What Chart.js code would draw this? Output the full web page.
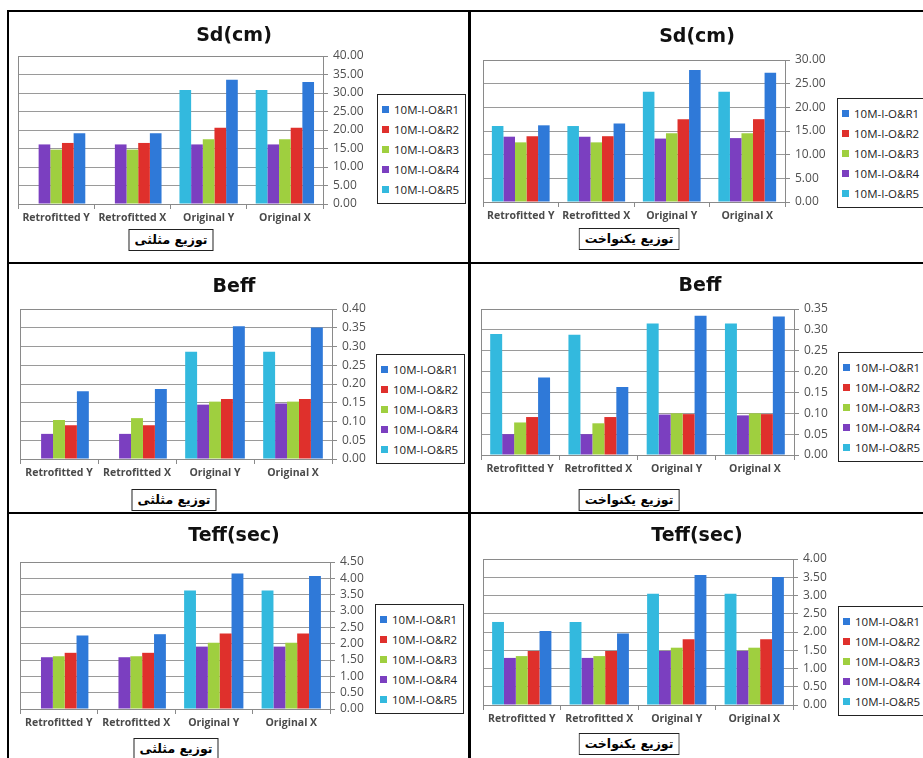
<!DOCTYPE html>
<html>
<head>
<meta charset="utf-8">
<script src="https://cdn.jsdelivr.net/npm/chart.js@4.4.0/dist/chart.umd.min.js"></script>
<style>
body { margin: 0; width: 923px; height: 758px; overflow: hidden; position: relative; background: #fff; font-family: "Open Sans", sans-serif; }
.panel { position: absolute; }
.rule { position: absolute; background: #000; }
.title { position: absolute; transform: translate(-50%, -50%); font: bold 19px "DejaVu Sans", sans-serif; color: #111; white-space: nowrap; }
.legend { position: absolute; border: 1px solid #222; background: #fff; padding: 4px 6px 4px 4px; }
.legend .item { height: 20px; display: flex; align-items: center; font-size: 11.5px; color: #222; white-space: nowrap; }
.legend .sw { width: 7px; height: 7px; margin-right: 5px; }
.tag { position: absolute; transform: translateX(-50%); border: 1px solid #222; background: #fff; padding: 2px 5px 3px; font: bold 12.5px "DejaVu Sans", sans-serif; direction: rtl; white-space: nowrap; color: #000; }
</style>
</head>
<body>
<div class="rule" style="left:7px;top:10px;width:916px;height:2px"></div>
<div class="rule" style="left:7px;top:10px;width:2px;height:748px"></div>
<div class="rule" style="left:468px;top:10px;width:3px;height:748px"></div>
<div class="rule" style="left:7px;top:262px;width:916px;height:2px"></div>
<div class="rule" style="left:7px;top:512px;width:916px;height:2px"></div>
<script>
const categories = ['Retrofitted Y', 'Retrofitted X', 'Original Y', 'Original X'];
// series in bar order, left to right (legend lists them the other way round)
const seriesNames = ['10M-I-O&R5', '10M-I-O&R4', '10M-I-O&R3', '10M-I-O&R2', '10M-I-O&R1'];
const seriesColors = ['#33b9de', '#7b3fc0', '#9fcf3f', '#df302c', '#2f79d8'];

// one row per series (R5, R4, R3, R2, R1), null = no bar
const sdTriangular = [
    [null, null, 30.8, 30.8],
    [16.1, 16.1, 16.1, 16.1],
    [14.7, 14.7, 17.5, 17.5],
    [16.5, 16.5, 20.6, 20.6],
    [19.1, 19.1, 33.6, 33.0]
];
const sdUniform = [
    [16.05, 16.05, 23.3, 23.3],
    [13.8, 13.8, 13.4, 13.5],
    [12.6, 12.6, 14.5, 14.5],
    [13.9, 13.9, 17.5, 17.5],
    [16.2, 16.6, 27.9, 27.3]
];
const beffTriangular = [
    [null, null, 0.286, 0.286],
    [0.067, 0.067, 0.145, 0.148],
    [0.104, 0.109, 0.153, 0.153],
    [0.090, 0.090, 0.160, 0.160],
    [0.181, 0.187, 0.354, 0.351]
];
const beffUniform = [
    [0.290, 0.288, 0.315, 0.315],
    [0.050, 0.050, 0.097, 0.095],
    [0.078, 0.076, 0.100, 0.100],
    [0.091, 0.091, 0.098, 0.098],
    [0.186, 0.163, 0.334, 0.332]
];
const teffTriangular = [
    [null, null, 3.63, 3.63],
    [1.585, 1.585, 1.91, 1.91],
    [1.615, 1.615, 2.03, 2.03],
    [1.72, 1.72, 2.31, 2.31],
    [2.25, 2.29, 4.15, 4.07]
];
const teffUniform = [
    [2.275, 2.275, 3.05, 3.05],
    [1.29, 1.29, 1.48, 1.48],
    [1.34, 1.34, 1.57, 1.57],
    [1.48, 1.48, 1.80, 1.80],
    [2.03, 1.96, 3.56, 3.51]
];

// y axis: [max, step]
const sdTriAxis = [40, 5];
const sdUniAxis = [30, 5];
const beffTriAxis = [0.40, 0.05];
const beffUniAxis = [0.35, 0.05];
const teffTriAxis = [4.5, 0.5];
const teffUniAxis = [4.0, 0.5];

const triLabel = 'توزیع مثلثی';
const uniLabel = 'توزیع یکنواخت';

const Y_W = 48;   // fixed width of the right axis
const X_H = 26;   // fixed height of the category axis

// grey frame round the plot area, like Excel
const plotFrame = {
    id: 'plotFrame',
    afterDatasetsDraw(chart) {
        const a = chart.chartArea, ctx = chart.ctx;
        ctx.save();
        ctx.strokeStyle = '#8a8a8a';
        ctx.lineWidth = 1;
        ctx.strokeRect(Math.round(a.left) + 0.5, Math.round(a.top) + 0.5, Math.round(a.right - a.left), Math.round(a.bottom - a.top));
        ctx.restore();
    }
};

function addPanel(p) {
    const div = document.createElement('div');
    div.className = 'panel';
    div.style.left = p.box[0] + 'px';
    div.style.top = p.box[1] + 'px';
    const canvas = document.createElement('canvas');
    canvas.width = p.box[2];
    canvas.height = p.box[3];
    div.appendChild(canvas);
    document.body.appendChild(div);

    const pad = {
        left: p.plot[0] - p.box[0],
        top: p.plot[2] - p.box[1],
        right: p.box[0] + p.box[2] - p.plot[1] - Y_W,
        bottom: p.box[1] + p.box[3] - p.plot[3] - X_H
    };

    new Chart(canvas.getContext('2d'), {
        type: 'bar',
        data: {
            labels: categories,
            datasets: p.values.map((vals, i) => ({
                label: seriesNames[i],
                data: vals,
                backgroundColor: seriesColors[i],
                borderWidth: 0,
                barPercentage: 1.0,
                categoryPercentage: 0.765
            }))
        },
        options: {
            responsive: false,
            animation: false,
            layout: { padding: pad },
            plugins: { legend: { display: false }, title: { display: false }, tooltip: { enabled: false } },
            scales: {
                x: {
                    grid: { drawOnChartArea: false, tickLength: 5, color: '#8a8a8a', offset: true },
                    border: { color: '#8a8a8a' },
                    ticks: { autoSkip: false, maxRotation: 0, padding: 3, color: '#4a4a4a', font: { family: 'Open Sans', size: 10.5, weight: 'bold' } },
                    afterFit: s => { s.height = X_H; }
                },
                y: {
                    position: 'right',
                    min: 0,
                    max: p.axis[0],
                    ticks: { stepSize: p.axis[1], autoSkip: false, padding: 5, color: '#505050', font: { family: 'Open Sans', size: 12 }, callback: v => Number(v).toFixed(2) },
                    grid: { color: '#9a9a9a', tickLength: 5, tickColor: '#8a8a8a' },
                    border: { color: '#8a8a8a' },
                    afterFit: s => { s.width = Y_W; }
                }
            }
        },
        plugins: [plotFrame]
    });

    const t = document.createElement('div');
    t.className = 'title';
    t.textContent = p.title;
    t.style.left = p.titleAt[0] + 'px';
    t.style.top = p.titleAt[1] + 'px';
    document.body.appendChild(t);

    const lg = document.createElement('div');
    lg.className = 'legend';
    lg.style.left = p.legendAt[0] + 'px';
    lg.style.top = p.legendAt[1] + 'px';
    for (let i = seriesNames.length - 1; i >= 0; i--) {
        lg.innerHTML += '<div class="item"><span class="sw" style="background:' + seriesColors[i] + '"></span>' + seriesNames[i].replace('&', '&amp;') + '</div>';
    }
    document.body.appendChild(lg);

    const tag = document.createElement('div');
    tag.className = 'tag';
    tag.textContent = p.tag;
    tag.style.left = p.tagAt[0] + 'px';
    tag.style.top = p.tagAt[1] + 'px';
    document.body.appendChild(tag);
}

// box: [x, y, w, h]  plot: [left, right, top, bottom]
addPanel({ values: sdTriangular, axis: sdTriAxis, title: 'Sd(cm)', tag: triLabel,
    box: [9, 12, 459, 250], plot: [18, 323, 56, 204], titleAt: [234, 34], legendAt: [377, 94], tagAt: [171, 229] });
addPanel({ values: sdUniform, axis: sdUniAxis, title: 'Sd(cm)', tag: uniLabel,
    box: [471, 12, 452, 250], plot: [483, 785, 60, 202], titleAt: [697, 35], legendAt: [837, 98], tagAt: [629, 228] });
addPanel({ values: beffTriangular, axis: beffTriAxis, title: 'Beff', tag: triLabel,
    box: [9, 264, 459, 248], plot: [20, 332, 309, 459], titleAt: [234, 285], legendAt: [376, 354], tagAt: [174, 489] });
addPanel({ values: beffUniform, axis: beffUniAxis, title: 'Beff', tag: uniLabel,
    box: [471, 264, 452, 248], plot: [481, 794, 309, 455], titleAt: [700, 284], legendAt: [838, 352], tagAt: [629, 489] });
addPanel({ values: teffTriangular, axis: teffTriAxis, title: 'Teff(sec)', tag: triLabel,
    box: [9, 514, 459, 244], plot: [20, 330, 562, 709], titleAt: [234, 534], legendAt: [375, 604], tagAt: [176, 738] });
addPanel({ values: teffUniform, axis: teffUniAxis, title: 'Teff(sec)', tag: uniLabel,
    box: [471, 514, 452, 244], plot: [483, 793, 559, 705], titleAt: [697, 534], legendAt: [838, 606], tagAt: [629, 733] });
</script>
</body>
</html>
